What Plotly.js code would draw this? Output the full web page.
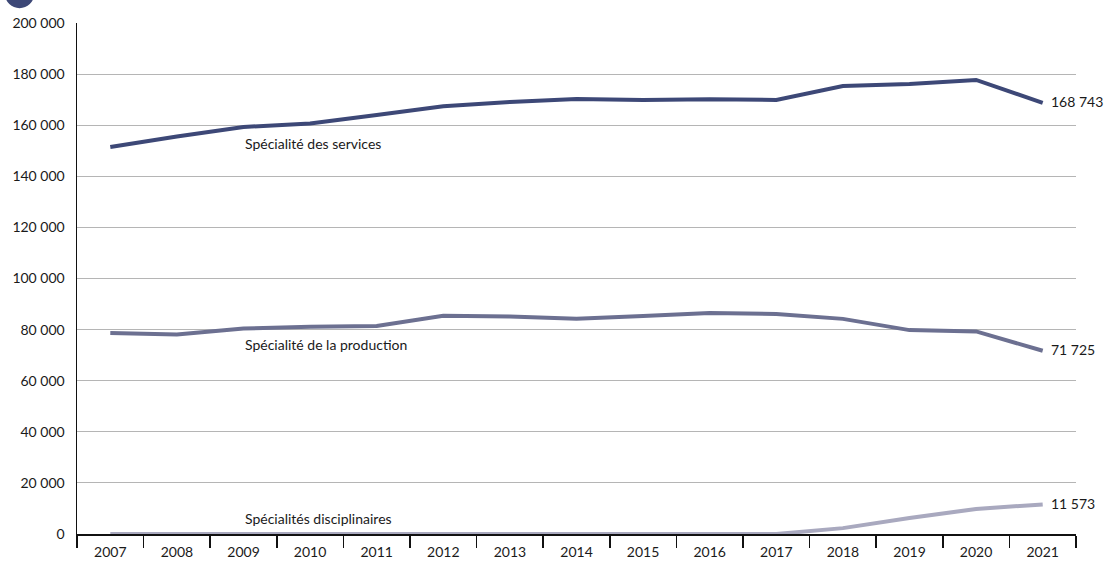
<!DOCTYPE html>
<html>
<head>
<meta charset="utf-8">
<script src="https://cdn.plot.ly/plotly-3.0.1.min.js"></script>
<style>
html,body{margin:0;padding:0;background:#fff;}
#chart{width:1104px;height:562px;}
</style>
</head>
<body>
<div id="chart"></div>
<script>
const years = ["2007","2008","2009","2010","2011","2012","2013","2014","2015","2016","2017","2018","2019","2020","2021"];
const services = [151500,155600,159300,160700,164000,167400,169100,170300,169900,170200,169900,175300,176100,177700,168743];
const production = [78700,78100,80400,81100,81400,85400,85100,84200,85300,86500,86100,84200,79800,79300,71725];
const disciplinaires = [0,0,0,0,0,0,0,0,0,0,0,2300,6300,9800,11573];
const seriesNames = ["Spécialité des services","Spécialité de la production","Spécialités disciplinaires"];
const yTicks = [0,20000,40000,60000,80000,100000,120000,140000,160000,180000,200000];

const colors = ["#3d4877","#6c7091","#a9a9bf"];
const allSeries = [services, production, disciplinaires];
const FONT = "Lato, 'Open Sans', sans-serif";

const traces = allSeries.map((s,i)=>({
  type:"scatter", mode:"lines", x:years, y:s, name:seriesNames[i],
  line:{color:colors[i], width:4}, hoverinfo:"skip", cliponaxis:false
}));

const fmt = v => String(v).replace(/\B(?=(\d{3})+(?!\d))/g, " ");
const last = years.length-1;
const annotations = [];
allSeries.forEach((s,i)=>{
  annotations.push({x:last, y:s[last], xref:"x", yref:"y", text:fmt(s[last]),
    showarrow:false, xanchor:"left", yanchor:"middle", xshift:6, yshift:1,
    font:{family:FONT, size:14, color:"#1a1a1a"}});
});
const labelY = [153000, 74000, 6200];
seriesNames.forEach((n,i)=>{
  annotations.push({x:2, y:labelY[i], xref:"x", yref:"y", text:n, showarrow:false,
    xanchor:"left", yanchor:"middle", xshift:-1,
    font:{family:FONT, size:14, color:"#1a1a1a"}});
});

const layout = {
  width:1104, height:562,
  margin:{l:77, r:28, t:23, b:28, pad:0},
  paper_bgcolor:"#ffffff", plot_bgcolor:"#ffffff",
  showlegend:false,
  font:{family:FONT, size:14, color:"#1a1a1a"},
  xaxis:{type:"category", range:[-0.5,14.5], tickson:"boundaries", ticks:"outside",
    ticklen:12, tickwidth:1.5, tickcolor:"#111", showline:true, linecolor:"#111", linewidth:1.5,
    showgrid:false, zeroline:false, tickfont:{size:14}, ticklabelstandoff:5,
    layer:"below traces", fixedrange:true},
  yaxis:{range:[0,200000], tickvals:yTicks, ticktext:yTicks.map(fmt), showline:true,
    linecolor:"#111", linewidth:1.5, showgrid:true, gridcolor:"#b5b5b5", gridwidth:1,
    zeroline:false, ticks:"", ticklabelstandoff:8, tickfont:{size:14},
    layer:"below traces", fixedrange:true},
  shapes:[{type:"circle", xref:"paper", yref:"paper", x0:-0.072, x1:-0.043, y0:1.029, y1:1.084,
    fillcolor:"#3d4877", line:{width:0}}],
  annotations:annotations
};

Plotly.newPlot("chart", traces, layout, {displayModeBar:false, staticPlot:true});
</script>
</body>
</html>
